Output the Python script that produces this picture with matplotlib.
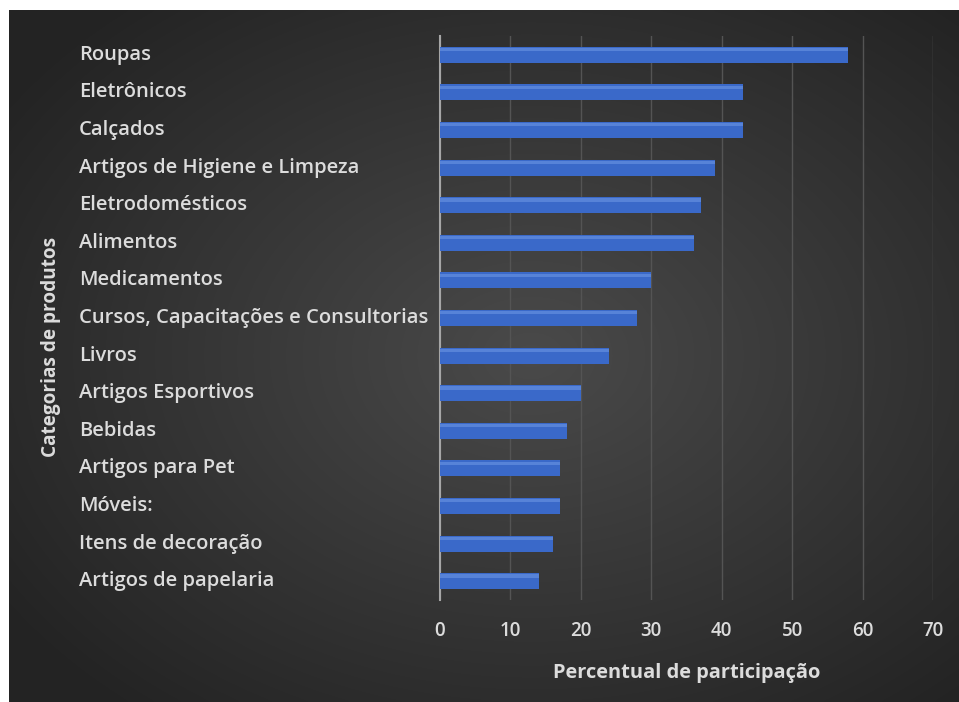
"""Horizontal bar chart: share of participation by product category."""
import numpy as np
import matplotlib
matplotlib.use('Agg')
import matplotlib.pyplot as plt
from matplotlib.transforms import blended_transform_factory

categories = [
    "Roupas", "Eletrônicos", "Calçados", "Artigos de Higiene e Limpeza",
    "Eletrodomésticos", "Alimentos", "Medicamentos",
    "Cursos, Capacitações e Consultorias", "Livros", "Artigos Esportivos",
    "Bebidas", "Artigos para Pet", "Móveis:", "Itens de decoração",
    "Artigos de papelaria",
]
percentages = [58, 43, 43, 39, 37, 36, 30, 28, 24, 20, 18, 17, 17, 16, 14]
x_ticks = [0, 10, 20, 30, 40, 50, 60, 70]

plt.rcParams['font.family'] = ['Open Sans', 'DejaVu Sans']
text_color = '#dcdcdc'

W, H = 959, 702
fig = plt.figure(figsize=(W / 100, H / 100), dpi=100, facecolor='white')

# dark background panel with a soft radial highlight
bg = fig.add_axes([9 / W, 0, 1 - 9 / W, 1 - 10 / H])
bg.set_axis_off()
yy, xx = np.mgrid[0:1:300j, 0:1:400j]
r = np.sqrt(((xx - 0.55) / 0.75) ** 2 + ((yy - 0.5) / 0.75) ** 2)
shade = np.clip(0.29 - 0.17 * r, 0.14, 0.30)
bg.imshow(np.dstack([shade] * 3), aspect='auto', extent=[0, 1, 0, 1],
          interpolation='bicubic')

# plot area: x from 440 to 933 px, y from 36 to 600 px
ax = fig.add_axes([440 / W, 1 - 600 / H, (933 - 440) / W, (600 - 36) / H])
ax.patch.set_alpha(0)

y = np.arange(len(categories))
bar_h = 0.43
ax.barh(y, percentages, height=bar_h, color='#3a69c9', zorder=3)
# light highlight along the top edge of each bar
ax.barh(y - bar_h * 0.32, percentages, height=bar_h * 0.2,
        color='#5783d8', zorder=3)

ax.set_xlim(0, 70)
ax.set_ylim(len(categories) - 0.5, -0.5)
ax.set_xticks(x_ticks)
ax.set_xticklabels([str(t) for t in x_ticks], color=text_color, fontsize=13.5,
                   fontweight='semibold')
ax.tick_params(axis='x', length=0, pad=15)
ax.set_yticks([])
ax.grid(True, axis='x', color='#545454', linewidth=1, zorder=0)
for s in ['top', 'right', 'bottom']:
    ax.spines[s].set_visible(False)
ax.spines['left'].set_color('#a6a6a6')
ax.spines['left'].set_linewidth(1.5)

# category labels, left aligned
trans = blended_transform_factory(fig.transFigure, ax.transData)
for yi, name in zip(y, categories):
    ax.text(79 / W, yi, name, transform=trans, ha='left', va='center',
            fontsize=14.5, fontweight='semibold', color=text_color)

fig.text(687 / W, 1 - 673 / H, "Percentual de participação", ha='center',
         va='center', fontsize=14.4, fontweight='bold', color=text_color)
fig.text(51 / W, 1 - 347 / H, "Categorias de produtos", ha='center',
         va='center', rotation=90, fontsize=13.7, fontweight='bold',
         color=text_color)

fig.savefig('out.png', dpi=100, facecolor='white')
